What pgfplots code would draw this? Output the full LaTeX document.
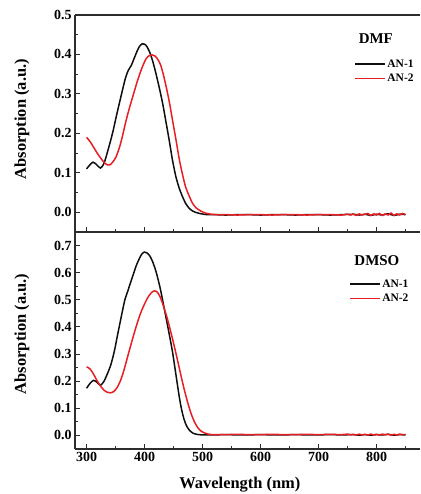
\documentclass[border=0pt]{standalone}
\usepackage{fontspec}
\setmainfont{Liberation Serif}
\usepackage{pgfplots}
\pgfplotsset{compat=1.18}
\usepackage{pgfplotstable}
\definecolor{myred}{RGB}{232,30,36}
\definecolor{myblack}{RGB}{15,15,15}
\definecolor{axcol}{RGB}{45,45,45}

\pgfplotstableread{
x y
300 0.110
305 0.119
311 0.127
317 0.121
324 0.112
330 0.124
337 0.158
345 0.202
352 0.248
360 0.298
367 0.340
372 0.360
377 0.372
382 0.390
387 0.408
391 0.420
396 0.427
400 0.426
404 0.420
409 0.405
414 0.383
419 0.355
425 0.318
431 0.277
437 0.228
443 0.178
448 0.133
454 0.090
460 0.060
465 0.041
471 0.022
477 0.010
483 0.003
490 -0.001
498 -0.004
508 -0.006
520 -0.006
540 -0.007
560 -0.006
580 -0.006
600 -0.007
620 -0.006
640 -0.006
660 -0.007
680 -0.006
700 -0.006
720 -0.007
740 -0.006
760 -0.005
770 -0.007
780 -0.005
790 -0.008
800 -0.005
810 -0.007
820 -0.004
830 -0.008
840 -0.005
850 -0.006
}\dmfA

\pgfplotstableread{
x y
300 0.190
307 0.177
314 0.160
320 0.146
326 0.134
331 0.125
336 0.120
340 0.120
345 0.127
351 0.141
357 0.166
362 0.194
368 0.232
374 0.265
380 0.295
386 0.325
392 0.352
398 0.375
403 0.390
408 0.397
413 0.399
418 0.396
423 0.387
428 0.372
433 0.345
438 0.313
443 0.277
448 0.235
454 0.185
460 0.133
466 0.092
471 0.063
477 0.041
483 0.022
489 0.011
497 0.003
505 -0.002
515 -0.005
525 -0.006
540 -0.006
560 -0.007
580 -0.006
600 -0.006
620 -0.007
640 -0.006
660 -0.006
680 -0.007
700 -0.006
720 -0.006
740 -0.007
750 -0.005
755 -0.007
760 -0.005
765 -0.008
770 -0.004
775 -0.007
780 -0.005
785 -0.003
790 -0.008
795 -0.004
800 -0.007
805 -0.003
810 -0.008
815 -0.004
820 -0.007
825 -0.002
830 -0.008
835 -0.004
840 -0.007
845 -0.003
850 -0.006
}\dmfB

\pgfplotstableread{
x y
300 0.174
306 0.192
312 0.203
318 0.196
324 0.185
330 0.200
336 0.228
342 0.262
348 0.312
353 0.366
360 0.440
366 0.500
371 0.532
376 0.565
381 0.597
386 0.628
391 0.652
395 0.668
399.5 0.676
404 0.673
409 0.662
414 0.640
420 0.602
427 0.542
434 0.467
441 0.390
448 0.310
454 0.225
460 0.140
464 0.094
468 0.060
472 0.037
477 0.020
483 0.009
490 0.004
500 0.002
520 0.002
540 0.003
560 0.002
580 0.002
600 0.003
620 0.002
640 0.002
660 0.003
680 0.002
700 0.002
720 0.003
740 0.002
760 0.003
770 0.001
780 0.003
790 0.001
800 0.003
810 0.002
820 0.004
830 0.001
840 0.003
850 0.002
}\dmsoA

\pgfplotstableread{
x y
300 0.253
306 0.245
312 0.226
318 0.202
324 0.182
330 0.167
336 0.159
341 0.157
347 0.162
353 0.178
359 0.205
365 0.245
372 0.300
379 0.354
386 0.405
393 0.450
400 0.485
406 0.510
412 0.527
417 0.533
422 0.528
427 0.510
432 0.480
438 0.440
444 0.392
450 0.340
456 0.285
462 0.228
468 0.173
474 0.124
480 0.082
486 0.050
492 0.028
498 0.015
505 0.008
512 0.004
520 0.003
540 0.003
560 0.004
580 0.003
600 0.003
620 0.004
640 0.003
660 0.003
680 0.004
700 0.003
720 0.004
740 0.003
750 0.005
755 0.002
760 0.004
765 0.001
770 0.005
775 0.002
780 0.004
785 0.001
790 0.005
795 0.002
800 0.004
805 0.001
810 0.005
815 0.002
820 0.005
825 0.001
830 0.004
835 0.002
840 0.005
845 0.002
850 0.004
}\dmsoB

\pgfplotsset{
  panel/.style={
    scale only axis,
    width=345bp, height=217bp,
    xmin=280, xmax=875,
    ymin=-0.05,
    axis x line*=box,
    axis y line*=left,
    axis line style={draw=axcol, line width=1.1bp},
    every tick/.style={draw=axcol, line width=0.9bp},
    tick align=inside,
    xtick pos=lower, ytick pos=left,
    major tick length=4.5bp,
    minor tick length=2.5bp,
    xtick={300,400,...,800},
    minor xtick={350,450,...,850},
    /pgf/number format/assume math mode=true,
    ticklabel style={font=\fontsize{14}{14}\selectfont\bfseries},
    yticklabel style={/pgf/number format/.cd, fixed, fixed zerofill, precision=1},
    xticklabel style={/pgf/number format/.cd, fixed, precision=0},
    legend cell align=left,
    legend image code/.code={\draw[#1, line width=1.5bp] (0bp,0bp) -- (30bp,0bp);},
    legend style={draw=none, fill=none, inner sep=0pt, outer sep=0pt,
      font=\fontsize{11.5}{11.5}\selectfont\bfseries,
      row sep=2.5bp,
      nodes={inner sep=1.5bp}},
    every axis plot/.append style={line width=1.5bp, no marks, smooth, tension=0.45},
  }
}

\begin{document}
\begin{tikzpicture}[x=1bp,y=1bp]
\useasboundingbox (0,0) rectangle (420,494);
\begin{axis}[panel, at={(75bp,262bp)}, anchor=south west,
  ymax=0.5,
  ytick={0,0.1,...,0.5},
  minor ytick={0.05,0.15,...,0.46},
  xticklabels={},
  ylabel={Absorption (a.u.)},
  every axis y label/.style={at={(axis description cs:-0.154,0.52)}, rotate=90, anchor=center, font=\fontsize{16.5}{16.5}\selectfont\bfseries},
  legend style={at={(axis description cs:0.81,0.740)}, anchor=west},
]
\addplot[myblack] table[x=x,y=y] {\dmfA};
\addlegendentry{AN-1}
\addplot[myred] table[x=x,y=y] {\dmfB};
\addlegendentry{AN-2}
\node[font=\fontsize{15}{15}\selectfont\bfseries] at (axis description cs:0.872,0.889) {DMF};
\end{axis}
\begin{axis}[panel, at={(75bp,45bp)}, anchor=south west,
  ymax=0.75,
  ytick={0,0.1,...,0.7},
  minor ytick={0.05,0.15,...,0.66},
  ylabel={Absorption (a.u.)},
  xlabel={Wavelength (nm)},
  every axis y label/.style={at={(axis description cs:-0.154,0.53)}, rotate=90, anchor=center, font=\fontsize{16.5}{16.5}\selectfont\bfseries},
  every axis x label/.style={at={(axis description cs:0.478,-0.166)}, anchor=center, font=\fontsize{16.5}{16.5}\selectfont\bfseries},
  legend style={at={(axis description cs:0.795,0.726)}, anchor=west},
]
\addplot[myblack] table[x=x,y=y] {\dmsoA};
\addlegendentry{AN-1}
\addplot[myred] table[x=x,y=y] {\dmsoB};
\addlegendentry{AN-2}
\node[font=\fontsize{15}{15}\selectfont\bfseries] at (axis description cs:0.875,0.866) {DMSO};
\end{axis}
\end{tikzpicture}
\end{document}
